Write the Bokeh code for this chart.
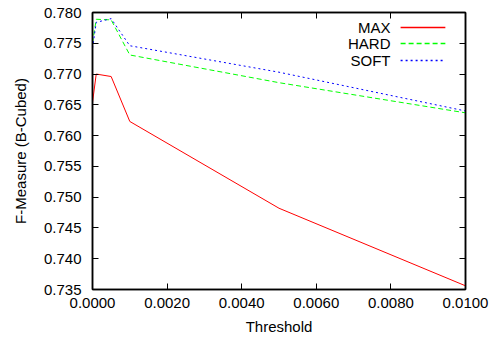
from bokeh.plotting import figure
from bokeh.models import (LinearAxis, FixedTicker, PrintfTickFormatter, Range1d,
                          Label, CustomJSTickFormatter)
from bokeh.embed import file_html
from bokeh.resources import INLINE

# ---- data ----
thresholds = [0.0, 0.0001, 0.0005, 0.001, 0.005, 0.01]
max_vals = [0.7654, 0.7700, 0.7696, 0.7623, 0.7482, 0.7356]
hard_vals = [0.7750, 0.7789, 0.7788, 0.7731, 0.7686, 0.7637]
soft_vals = [0.7742, 0.7784, 0.7790, 0.7746, 0.7703, 0.7640]
series_names = ["MAX", "HARD", "SOFT"]
x_ticks = [0.0, 0.002, 0.004, 0.006, 0.008, 0.010]
y_ticks = [0.735, 0.740, 0.745, 0.750, 0.755, 0.760, 0.765, 0.770, 0.775, 0.780]

FONT = "Liberation Sans"
FS = "15px"

p = figure(width=489, height=342, output_backend="svg", toolbar_location=None,
           x_range=Range1d(0, 0.01), y_range=Range1d(0.735, 0.780),
           min_border_left=92, min_border_right=24, min_border_top=12,
           min_border_bottom=53)
p.grid.visible = False
p.outline_line_color = "black"
p.outline_line_width = 1.5
p.background_fill_color = "white"
p.border_fill_color = "white"

def style_axis(ax, ticks, fmt, labels=True):
    ax.ticker = FixedTicker(ticks=ticks)
    ax.major_tick_in = 6
    ax.major_tick_out = 0
    ax.minor_tick_line_color = None
    ax.axis_line_color = "black"
    ax.axis_line_width = 1.5
    ax.major_tick_line_color = "black"
    ax.major_tick_line_width = 1
    if labels:
        ax.formatter = PrintfTickFormatter(format=fmt)
        ax.major_label_text_font = FONT
        ax.major_label_text_font_size = FS
        ax.major_label_text_color = "black"
        ax.axis_label_text_font = FONT
        ax.axis_label_text_font_size = FS
        ax.axis_label_text_font_style = "normal"
        ax.axis_label_text_color = "black"
    else:
        ax.formatter = CustomJSTickFormatter(code="return ''")
        ax.major_label_text_font_size = "0px"
        ax.major_label_standoff = 0

xa = p.xaxis[0]
style_axis(xa, x_ticks, "%.4f")
xa.major_label_standoff = 8
xa.axis_label = "Threshold"
xa.axis_label_standoff = 7

ya = p.yaxis[0]
style_axis(ya, y_ticks, "%.3f")
ya.major_label_standoff = 11
ya.axis_label = "F-Measure (B-Cubed)"
ya.axis_label_standoff = 12

top = LinearAxis()
style_axis(top, x_ticks, None, labels=False)
p.add_layout(top, "above")
right = LinearAxis()
style_axis(right, y_ticks, None, labels=False)
p.add_layout(right, "right")

colors = ["#ff0000", "#00ff00", "#0000ff"]
dashes = ["solid", "5 3", "2 3"]
for vals, col, dash in zip([max_vals, hard_vals, soft_vals], colors, dashes):
    p.line(thresholds, vals, line_color=col, line_width=1, line_dash=dash)

# ---- legend (gnuplot style: label on the left, sample on the right) ----
leg_text_x = 0.00799
leg_line_x0 = 0.00826
leg_line_x1 = 0.00946
leg_rows = [0.77756, 0.77497, 0.77221]
for name, yy, col, dash in zip(series_names, leg_rows, colors, dashes):
    p.add_layout(Label(x=leg_text_x, y=yy, text=name, text_align="right",
                       text_baseline="middle", text_font=FONT, text_font_size=FS,
                       text_color="black"))
    p.segment(x0=[leg_line_x0], y0=[yy], x1=[leg_line_x1], y1=[yy],
              line_color=col, line_width=1.6, line_dash=dash)

open("out.html", "w").write(file_html(p, INLINE))
